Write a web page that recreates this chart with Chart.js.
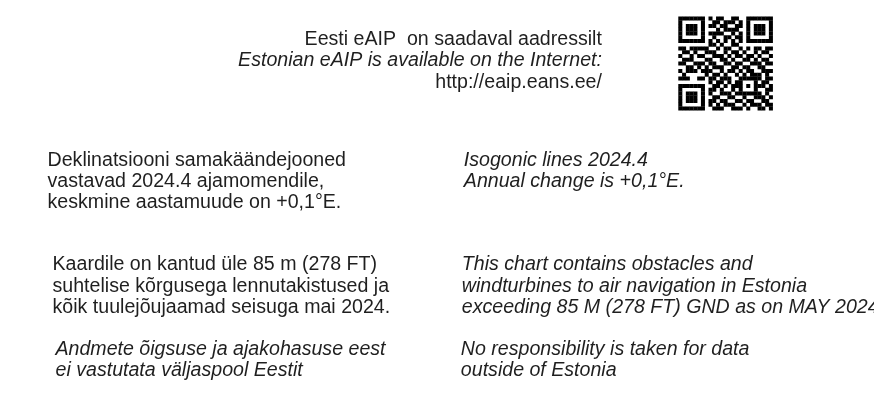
<!DOCTYPE html>
<html>
<head>
<meta charset="utf-8">
<script src="https://cdn.jsdelivr.net/npm/chart.js@4.4.0/dist/chart.umd.min.js"></script>
<style>
  html, body { margin: 0; padding: 0; background: #fff; }
  #wrap { width: 874px; height: 417px; position: relative; }
</style>
</head>
<body>
<div id="wrap"><canvas id="chart"></canvas></div>
<script>
// text content of the note panel
const addressLines = ['Eesti eAIP  on saadaval aadressilt', 'Estonian eAIP is available on the Internet:', 'http://eaip.eans.ee/'];
const declinationEt = ['Deklinatsiooni samakäändejooned', 'vastavad 2024.4 ajamomendile,', 'keskmine aastamuude on +0,1°E.'];
const declinationEn = ['Isogonic lines 2024.4', 'Annual change is +0,1°E.'];
const obstaclesEt = ['Kaardile on kantud üle 85 m (278 FT)', 'suhtelise kõrgusega lennutakistused ja', 'kõik tuulejõujaamad seisuga mai 2024.'];
const obstaclesEn = ['This chart contains obstacles and', 'windturbines to air navigation in Estonia', 'exceeding 85 M (278 FT) GND as on MAY 2024'];
const disclaimerEt = ['Andmete õigsuse ja ajakohasuse eest', 'ei vastutata väljaspool Eestit'];
const disclaimerEn = ['No responsibility is taken for data', 'outside of Estonia'];

// QR code modules (1 = dark)
const qrRows = [
  '1111111010110011001111111',
  '1000001001101110101000001',
  '1011101011011001101011101',
  '1011101000101111001011101',
  '1011101011110010101011101',
  '1000001001001101101000001',
  '1111111010101010101111111',
  '0000000011010011000000000',
  '1101111100101100101011011',
  '0110100111001011010010110',
  '1001011001110101101101001',
  '0111000110011010011010110',
  '1100111011001101100111011',
  '0011010101110011011001100',
  '1011101110010110101100111',
  '0100000101101001010111010',
  '1110011011011100111111011',
  '0000000010110101100010110',
  '1111111001101011101011101',
  '1000001011010010100010011',
  '1011101010011101111111010',
  '1011101001100110010011101',
  '1011101011011001101100110',
  '1000001010101110010111011',
  '1111111001110011101001101'
];

const W = 874, H = 417;
const qrLeft = 680, qrTop = 14, qrModule = 3.8;

const qrPoints = [];
qrRows.forEach((row, r) => {
  row.split('').forEach((bit, c) => {
    if (bit === '1') {
      qrPoints.push({ x: qrLeft + (c + 0.5) * qrModule, y: qrTop + (r + 0.5) * qrModule });
    }
  });
});

const textColor = '#1f1f1f';
const fontFamily = '"Liberation Sans", Arial, sans-serif';
const fontSize = 19.6;

// where each block of text sits (baseline of first line)
const textBlocks = [
  { lines: addressLines, x: 603, y: 43, step: 21.5, align: 'right', italic: [false, true, false] },
  { lines: declinationEt, x: 45, y: 165, step: 21.5, align: 'left', italic: false },
  { lines: declinationEn, x: 464, y: 165, step: 21.5, align: 'left', italic: true },
  { lines: obstaclesEt, x: 50, y: 271, step: 21.7, align: 'left', italic: false },
  { lines: obstaclesEn, x: 462, y: 271, step: 21.7, align: 'left', italic: true },
  { lines: disclaimerEt, x: 53, y: 357, step: 21.5, align: 'left', italic: true },
  { lines: disclaimerEn, x: 461, y: 357, step: 21.5, align: 'left', italic: true }
];

const notesPlugin = {
  id: 'notes',
  afterDatasetsDraw(chart) {
    const ctx = chart.ctx;
    const xs = chart.scales.x, ys = chart.scales.y;
    ctx.save();
    ctx.fillStyle = textColor;
    ctx.textBaseline = 'alphabetic';
    textBlocks.forEach(block => {
      ctx.textAlign = block.align;
      block.lines.forEach((line, i) => {
        const it = Array.isArray(block.italic) ? block.italic[i] : block.italic;
        ctx.font = (it ? 'italic ' : '') + fontSize + 'px ' + fontFamily;
        ctx.fillText(line, xs.getPixelForValue(block.x), ys.getPixelForValue(block.y + i * block.step));
      });
    });
    ctx.restore();
  }
};

new Chart(document.getElementById('chart'), {
  type: 'scatter',
  data: {
    datasets: [{
      label: 'QR',
      data: qrPoints,
      pointStyle: 'rect',
      pointRadius: qrModule * 0.75,
      pointHoverRadius: qrModule * 0.75,
      backgroundColor: '#000',
      borderWidth: 0
    }]
  },
  options: {
    responsive: true,
    maintainAspectRatio: false,
    animation: false,
    events: [],
    layout: { padding: 0 },
    plugins: { legend: { display: false }, tooltip: { enabled: false } },
    scales: {
      x: { type: 'linear', min: 0, max: W, display: false },
      y: { type: 'linear', min: 0, max: H, reverse: true, display: false }
    }
  },
  plugins: [notesPlugin]
});
</script>
</body>
</html>
